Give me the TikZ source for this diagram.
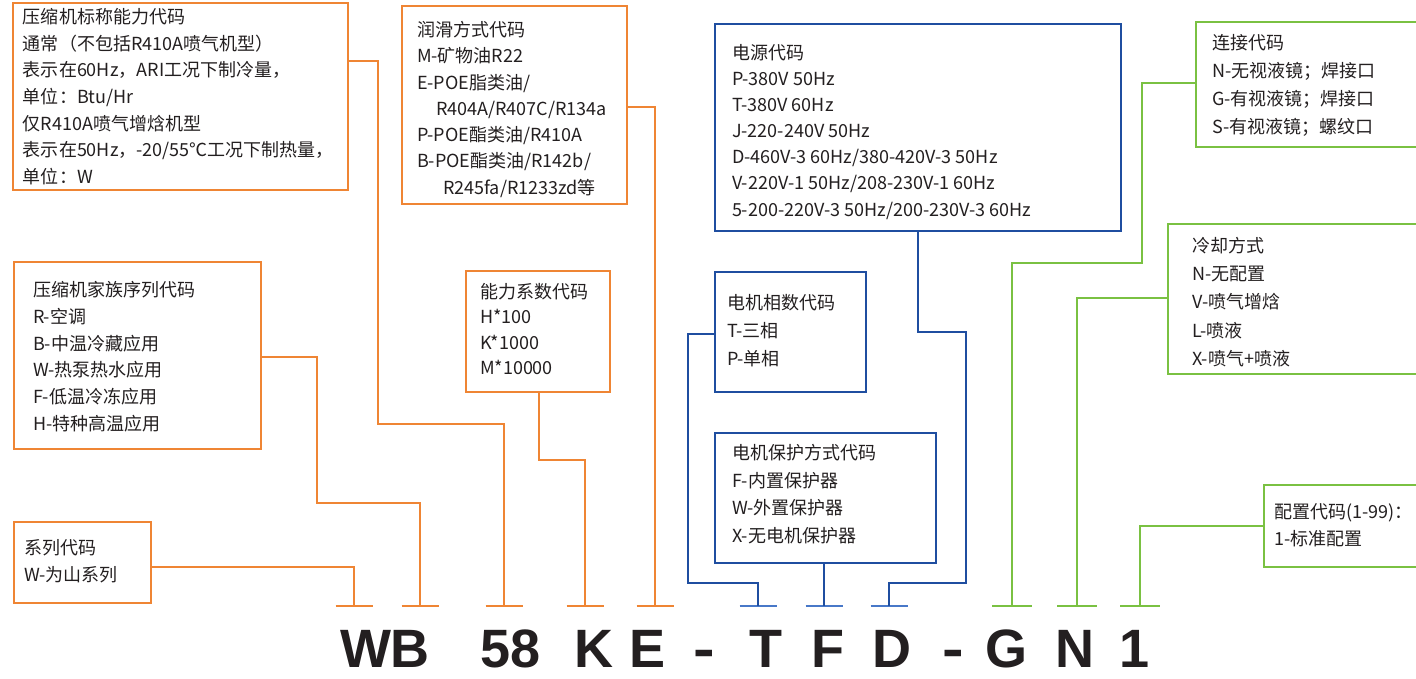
\documentclass[tikz,border=0pt]{standalone}
\usepackage{fontspec}
\setmainfont{Noto Sans CJK SC}
\newfontfamily\bigf{Liberation Sans}
\usetikzlibrary{calc}
\definecolor{orn}{RGB}{239,133,52}
\definecolor{blu}{RGB}{31,78,160}
\definecolor{lblu}{RGB}{72,120,200}
\definecolor{grn}{RGB}{122,193,66}
\definecolor{tcol}{RGB}{35,31,32}
\newcommand\mkbox[6]{\node[draw=#6, line width=2.5pt, inner sep=0pt, outer sep=0pt,
  minimum width=#4pt-#2pt, minimum height=#5pt-#3pt, anchor=north west] (#1) at (#2,#3) {};}
\newcommand\bigdash{\scalebox{1.2}[1]{-}}
\begin{document}
\begin{tikzpicture}[x=1pt,y=-1pt,
  txt/.style={anchor=west, inner sep=0pt, outer sep=0pt, text=tcol,
    font=\fontsize{18}{22}\selectfont, text height=15pt, text depth=2pt},
  big/.style={anchor=base, inner sep=0pt, outer sep=0pt, text=tcol, text height=40pt, text depth=0pt,
    font=\bigf\bfseries\fontsize{54}{55}\selectfont},
  oline/.style={draw=orn, line width=2.5pt},
  bline/.style={draw=blu, line width=2.5pt},
  gline/.style={draw=grn, line width=2.5pt},
  obar/.style={draw=orn, line width=2.5pt},
  bbar/.style={draw=lblu, line width=1.5pt},
  gbar/.style={draw=grn, line width=2.5pt}]
\useasboundingbox (0,0) rectangle (1416,679);
\clip (0,0) rectangle (1416,679);
\fill[white] (0,0) rectangle (1416,679);

% boxes
\mkbox{b1}{13}{3}{348}{190}{orn}
\mkbox{lub}{402}{6}{627}{204}{orn}
\mkbox{fam}{14}{262}{261}{449}{orn}
\mkbox{mult}{466}{271}{610}{392}{orn}
\mkbox{ser}{14}{522}{151}{603}{orn}
\mkbox{pow}{715}{24}{1121}{231}{blu}
\mkbox{phase}{715}{272}{866}{392}{blu}
\mkbox{prot}{715}{433}{936}{563}{blu}
\mkbox{conn}{1196}{22}{1430}{147}{grn}
\mkbox{cool}{1168}{224}{1430}{374}{grn}
\mkbox{conf}{1264}{485}{1430}{567}{grn}

% texts
\foreach \t [count=\i from 0] in {{压缩机标称能力代码},{通常（不包括R410A喷气机型）},{表示在60Hz，ARI工况下制冷量，},{单位：Btu/Hr},{仅R410A喷气增焓机型},{表示在50Hz，-20/55℃工况下制热量，},{单位：W}}
  \node[txt] (b1t\i) at (23,17+26.7*\i) {\t};
\foreach \dx/\t [count=\i from 0] in {0/{润滑方式代码},0/{M-矿物油R22},0/{E-POE脂类油/},19/{R404A/R407C/R134a},0/{P-POE酯类油/R410A},0/{B-POE酯类油/R142b/},26/{R245fa/R1233zd等}}
  \node[txt] (lubt\i) at (417+\dx,30+26.3*\i) {\t};
\foreach \t [count=\i from 0] in {{压缩机家族序列代码},{R-空调},{B-中温冷藏应用},{W-热泵热水应用},{F-低温冷冻应用},{H-特种高温应用}}
  \node[txt] (famt\i) at (33,290+26.8*\i) {\t};
\foreach \t [count=\i from 0] in {{能力系数代码},{H*100},{K*1000},{M*10000}}
  \node[txt] (multt\i) at (480,292+25.3*\i) {\t};
\foreach \t [count=\i from 0] in {{系列代码},{W-为山系列}}
  \node[txt] (sert\i) at (24,548+27*\i) {\t};
\foreach \t [count=\i from 0] in {{电源代码},{P-380V 50Hz},{T-380V 60Hz},{J-220-240V 50Hz},{D-460V-3 60Hz/380-420V-3 50Hz},{V-220V-1 50Hz/208-230V-1 60Hz},{5-200-220V-3 50Hz/200-230V-3 60Hz}}
  \node[txt] (powt\i) at (732,53+26.1*\i) {\t};
\foreach \t [count=\i from 0] in {{电机相数代码},{T-三相},{P-单相}}
  \node[txt] (phaset\i) at (727,303+28*\i) {\t};
\foreach \t [count=\i from 0] in {{电机保护方式代码},{F-内置保护器},{W-外置保护器},{X-无电机保护器}}
  \node[txt] (prott\i) at (732,453+27.7*\i) {\t};
\foreach \t [count=\i from 0] in {{连接代码},{N-无视液镜；焊接口},{G-有视液镜；焊接口},{S-有视液镜；螺纹口}}
  \node[txt] (connt\i) at (1212,43+28*\i) {\t};
\foreach \t [count=\i from 0] in {{冷却方式},{N-无配置},{V-喷气增焓},{L-喷液},{X-喷气+喷液}}
  \node[txt] (coolt\i) at (1192,246+28.2*\i) {\t};
\foreach \t [count=\i from 0] in {{配置代码(1-99)：},{1-标准配置}}
  \node[txt] (conft\i) at (1274,512+27*\i) {\t};

% bar positions
\coordinate (kW) at (354,606);
\coordinate (kB) at (420,606);
\coordinate (k58) at (504,606);
\coordinate (kK) at (585,606);
\coordinate (kE) at (655,606);
\coordinate (kT) at (758,606);
\coordinate (kF) at (824,606);
\coordinate (kD) at (889,606);
\coordinate (kG) at (1012,606);
\coordinate (kN) at (1077,606);
\coordinate (k1) at (1140,606);
\foreach \k in {kW,kB,k58,kK,kE} \draw[obar] ($(\k)+(-18.5,0)$) -- ($(\k)+(18.5,0)$);
\foreach \k in {kT,kF,kD} \draw[bbar] ($(\k)+(-18.5,0)$) -- ($(\k)+(18.5,0)$);
\foreach \k in {kG,kN,k1} \draw[gbar] ($(\k)+(-20,0)$) -- ($(\k)+(20,0)$);

% connectors
\draw[oline] ($(ser.north east)+(0,45)$) -| (kW);
\draw[oline] ($(fam.north east)+(0,95)$) -| (317,503) -| (kB);
\draw[oline] ($(b1.north east)+(0,58)$) -| (378,424) -| (k58);
\draw[oline] ($(mult.south west)+(73,0)$) |- (585,460) -- (kK);
\draw[oline] ($(lub.north east)+(0,101)$) -| (kE);
\draw[bline] ($(phase.north west)+(0,62)$) -| (688,583) -| (kT);
\draw[bline] (prot.south -| kF) -- (kF);
\draw[bline] ($(pow.south west)+(203,0)$) |- (966,332) |- (889,583) -- (kD);
\draw[gline] ($(conn.north west)+(0,61)$) -| (1142,263) -| (kG);
\draw[gline] ($(cool.north west)+(0,74)$) -| (kN);
\draw[gline] ($(conf.north west)+(0,41)$) -| (k1);

% model code
\node[big] (LWB) at (385,667) {WB};
\node[big] (L58) at (511,667) {58};
\foreach \c/\x/\n in {K/594/K,E/648/E,T/766/T,F/828/F,D/892/D,G/1006/G,N/1075/N,1/1135/1}
  \node[big] (L\n) at (\x,667) {\c};
\node[big] (Ld1) at (704,667) {\bigdash};
\node[big] (Ld2) at (953,667) {\bigdash};
\end{tikzpicture}
\end{document}
